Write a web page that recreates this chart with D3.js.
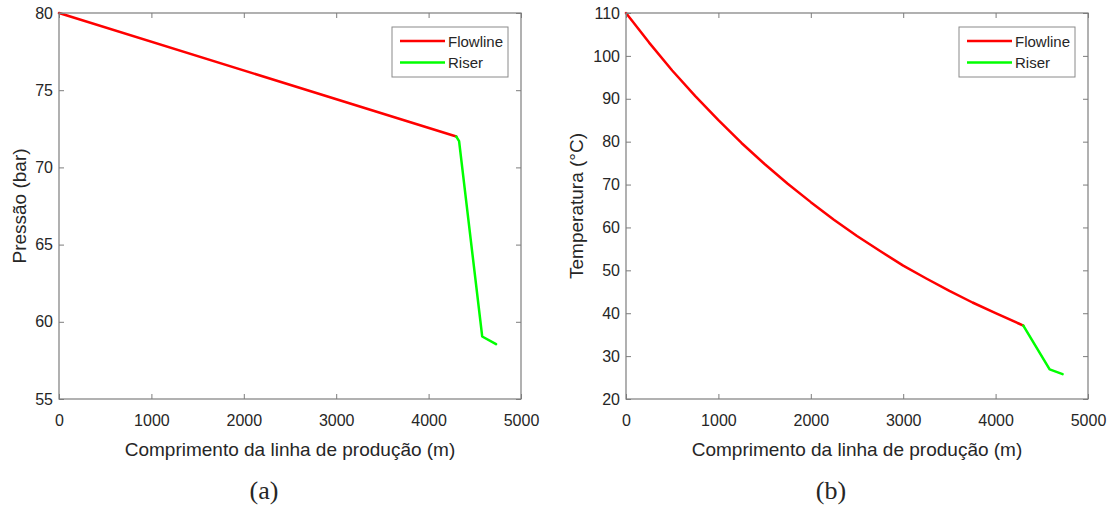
<!DOCTYPE html>
<html>
<head>
<meta charset="utf-8">
<script src="https://cdn.jsdelivr.net/npm/d3@7"></script>
<style>
  html, body { margin: 0; padding: 0; background: #fff; }
  svg text { font-family: "Liberation Sans", Arial, Helvetica, sans-serif; fill: #262626; }
  .caption { font-family: "Liberation Serif", "DejaVu Serif", serif !important; }
</style>
</head>
<body>
<svg id="fig" width="1115" height="509"></svg>
<script>
// Distance along the production line (m) and tick values
const xTicks = [0, 1000, 2000, 3000, 4000, 5000];
const pressureTicks = [55, 60, 65, 70, 75, 80];
const temperatureTicks = [20, 30, 40, 50, 60, 70, 80, 90, 100, 110];

// Pressure profile (bar)
const pressureFlowlineX = [0, 4300];
const pressureFlowlineY = [80, 72.0];
const pressureRiserX = [4300, 4330, 4580, 4730];
const pressureRiserY = [72.0, 71.7, 59.05, 58.55];

// Temperature profile (°C)
const temperatureFlowlineX = [0, 250, 500, 750, 1000, 1250, 1500, 1750, 2000, 2250, 2500, 2750, 3000, 3250, 3500, 3750, 4000, 4250, 4300];
const temperatureFlowlineY = [110, 103.1, 96.6, 90.6, 85.0, 79.7, 74.8, 70.2, 65.9, 61.8, 58.0, 54.5, 51.1, 48.1, 45.2, 42.5, 40.0, 37.6, 37.1];
const temperatureRiserX = [4300, 4585, 4725];
const temperatureRiserY = [37.1, 26.9, 25.8];

const seriesNames = ["Flowline", "Riser"];
const seriesColors = ["#ff0000", "#00ff00"];

const svg = d3.select("#fig");
const axisColor = "#7d7d7d";

function zip(xs, ys) { return xs.map((x, i) => [x, ys[i]]); }

function panel(opts) {
  const { left, right, top, bottom, yDomain, yTicks, yLabel, yLabelX, caption, captionX, series, legend } = opts;
  const x = d3.scaleLinear().domain([0, 5000]).range([left, right]);
  const y = d3.scaleLinear().domain(yDomain).range([bottom, top]);
  const g = svg.append("g");

  // data lines
  const line = d3.line().x(d => x(d[0])).y(d => y(d[1]));
  series.forEach((s, i) => {
    g.append("path")
      .datum(s)
      .attr("d", line)
      .attr("fill", "none")
      .attr("stroke", seriesColors[i])
      .attr("stroke-width", 2.5)
      .attr("stroke-linejoin", "round")
      .attr("stroke-linecap", "round");
  });

  // axes: inward ticks on all four sides
  const style = sel => {
    sel.select(".domain").remove();
    sel.selectAll("line").attr("stroke", axisColor).attr("stroke-width", 1);
    sel.selectAll("text").attr("fill", "#2e2e2e").style("font-size", "16px");
  };
  g.append("g").attr("transform", `translate(0,${bottom})`)
    .call(d3.axisBottom(x).tickValues(xTicks).tickSize(-5).tickPadding(16).tickFormat(d3.format("d")))
    .call(style);
  g.append("g").attr("transform", `translate(0,${top})`)
    .call(d3.axisTop(x).tickValues(xTicks).tickSize(-5).tickFormat(""))
    .call(style);
  g.append("g").attr("transform", `translate(${left},0)`)
    .call(d3.axisLeft(y).tickValues(yTicks).tickSize(-5).tickPadding(6).tickFormat(d3.format("d")))
    .call(style);
  g.append("g").attr("transform", `translate(${right},0)`)
    .call(d3.axisRight(y).tickValues(yTicks).tickSize(-5).tickFormat(""))
    .call(style);
  g.selectAll("text").attr("font-family", null);

  // box
  g.append("rect")
    .attr("x", left).attr("y", top)
    .attr("width", right - left).attr("height", bottom - top)
    .attr("fill", "none").attr("stroke", axisColor).attr("stroke-width", 1.2);

  // axis titles
  g.append("text")
    .attr("x", (left + right) / 2).attr("y", 456)
    .attr("text-anchor", "middle")
    .style("font-size", "19px")
    .text("Comprimento da linha de produção (m)");
  g.append("text")
    .attr("transform", `translate(${yLabelX},${(top + bottom) / 2}) rotate(-90)`)
    .attr("text-anchor", "middle")
    .style("font-size", "19px")
    .text(yLabel);

  // legend
  const lg = g.append("g");
  lg.append("rect")
    .attr("x", legend.x).attr("y", legend.y)
    .attr("width", 116).attr("height", 50)
    .attr("fill", "#fff").attr("stroke", "#8a8a8a").attr("stroke-width", 1);
  seriesNames.forEach((name, i) => {
    const ly = legend.y + 14 + i * 21.5;
    lg.append("line")
      .attr("x1", legend.x + 8).attr("x2", legend.x + 53)
      .attr("y1", ly).attr("y2", ly)
      .attr("stroke", seriesColors[i]).attr("stroke-width", 2.5);
    lg.append("text")
      .attr("x", legend.x + 56).attr("y", ly + 5.5)
      .style("font-size", "15px")
      .text(name);
  });

  // sub-figure caption
  svg.append("text")
    .attr("class", "caption")
    .attr("x", captionX).attr("y", 499)
    .attr("text-anchor", "middle")
    .style("font-size", "26px")
    .text(caption);
}

panel({
  left: 59, right: 521, top: 13, bottom: 399,
  yDomain: [55, 80], yTicks: pressureTicks,
  yLabel: "Pressão (bar)", yLabelX: 26,
  caption: "(a)", captionX: 264,
  series: [zip(pressureFlowlineX, pressureFlowlineY), zip(pressureRiserX, pressureRiserY)],
  legend: { x: 392, y: 27 }
});

panel({
  left: 626, right: 1088, top: 13, bottom: 399,
  yDomain: [20, 110], yTicks: temperatureTicks,
  yLabel: "Temperatura (°C)", yLabelX: 583,
  caption: "(b)", captionX: 831,
  series: [zip(temperatureFlowlineX, temperatureFlowlineY), zip(temperatureRiserX, temperatureRiserY)],
  legend: { x: 959, y: 27 }
});
</script>
</body>
</html>
